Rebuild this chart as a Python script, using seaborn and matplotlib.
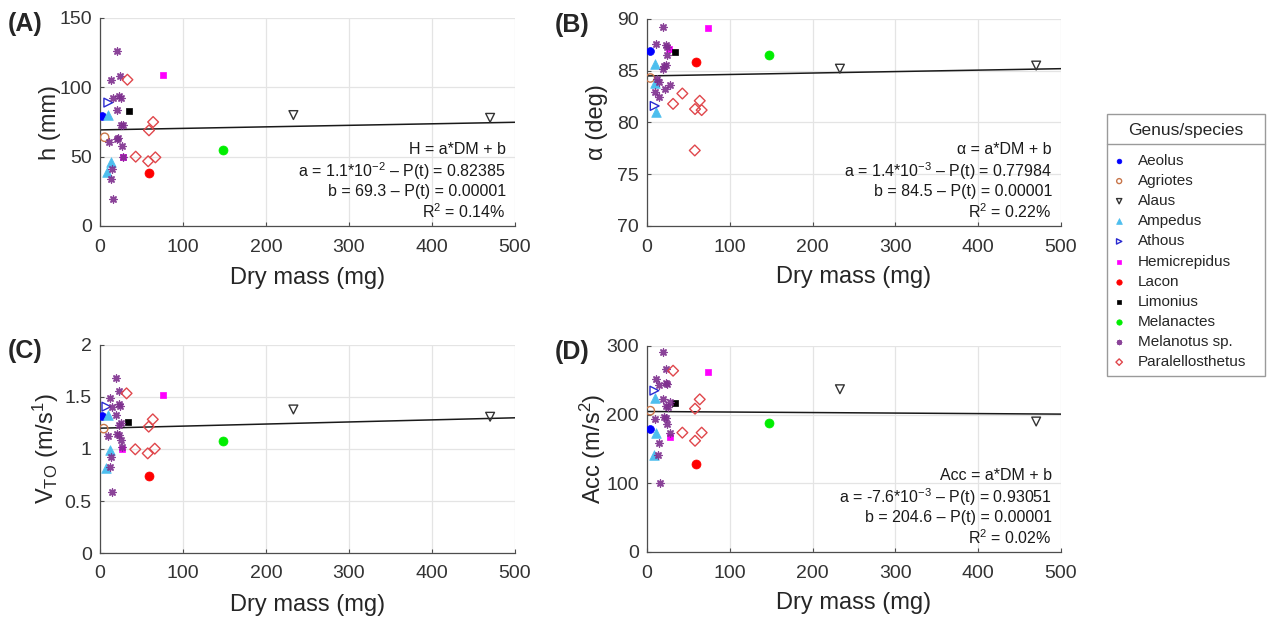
import numpy as np
import pandas as pd
import matplotlib
matplotlib.use("Agg")
import matplotlib.pyplot as plt
from matplotlib.patches import Rectangle
from matplotlib.lines import Line2D
import seaborn as sns

# ==============================================================================
# DATA
# ==============================================================================
species_order = ["Aeolus", "Agriotes", "Alaus", "Ampedus", "Athous", "Hemicrepidus",
                 "Lacon", "Limonius", "Melanactes", "Melanotus sp.", "Paralellosthetus"]

# (A) jump height h (mm) vs dry mass (mg)
panel_a = [
    ("Aeolus", 3, 79.6), ("Agriotes", 5.6, 64),
    ("Alaus", 233, 80), ("Alaus", 470, 78),
    ("Ampedus", 10, 80), ("Ampedus", 13, 46), ("Ampedus", 9, 39),
    ("Athous", 10, 89),
    ("Hemicrepidus", 76, 108.6), ("Hemicrepidus", 28, 49.5),
    ("Lacon", 59, 38), ("Limonius", 34.5, 83), ("Melanactes", 148, 55),
    ("Melanotus sp.", 20, 126), ("Melanotus sp.", 13, 105), ("Melanotus sp.", 24, 108),
    ("Melanotus sp.", 16, 92), ("Melanotus sp.", 23, 94), ("Melanotus sp.", 25, 92),
    ("Melanotus sp.", 20, 84), ("Melanotus sp.", 25, 73), ("Melanotus sp.", 28, 73),
    ("Melanotus sp.", 22, 63.5), ("Melanotus sp.", 10.4, 60.6), ("Melanotus sp.", 26, 57.7),
    ("Melanotus sp.", 14.5, 41), ("Melanotus sp.", 13, 34), ("Melanotus sp.", 16, 19.5),
    ("Melanotus sp.", 21, 63), ("Melanotus sp.", 28, 50),
    ("Paralellosthetus", 33, 105.5), ("Paralellosthetus", 64, 75), ("Paralellosthetus", 59, 69),
    ("Paralellosthetus", 43, 50), ("Paralellosthetus", 66.7, 49.5), ("Paralellosthetus", 58, 46.7),
]

# (B) take-off angle (deg)
panel_b = [
    ("Aeolus", 3.2, 86.9), ("Agriotes", 4, 84.3),
    ("Alaus", 233, 85.2), ("Alaus", 470, 85.5),
    ("Ampedus", 9.7, 85.7), ("Ampedus", 9.3, 83.8), ("Ampedus", 11.3, 81.0),
    ("Athous", 9.3, 81.6),
    ("Hemicrepidus", 73.8, 89.1), ("Hemicrepidus", 26.6, 87.1),
    ("Lacon", 59, 85.8), ("Limonius", 33.9, 86.8), ("Melanactes", 147.6, 86.5),
    ("Melanotus sp.", 19.4, 89.2), ("Melanotus sp.", 11.3, 87.6), ("Melanotus sp.", 22.6, 87.5),
    ("Melanotus sp.", 24, 87.3), ("Melanotus sp.", 24, 86.5), ("Melanotus sp.", 20, 85.5),
    ("Melanotus sp.", 23.4, 85.6), ("Melanotus sp.", 19.4, 85.2), ("Melanotus sp.", 12.5, 84.2),
    ("Melanotus sp.", 14.5, 83.9), ("Melanotus sp.", 27.4, 83.6), ("Melanotus sp.", 21.8, 83.2),
    ("Melanotus sp.", 9.7, 82.9), ("Melanotus sp.", 14.5, 82.5),
    ("Paralellosthetus", 42.7, 82.8), ("Paralellosthetus", 63.7, 82.1), ("Paralellosthetus", 31.5, 81.8),
    ("Paralellosthetus", 58, 81.3), ("Paralellosthetus", 66, 81.2), ("Paralellosthetus", 57.7, 77.3),
]

# (C) take-off velocity (m/s)
panel_c = [
    ("Aeolus", 2, 1.317), ("Agriotes", 4.5, 1.196),
    ("Alaus", 233, 1.38), ("Alaus", 470, 1.31),
    ("Ampedus", 9.7, 1.324), ("Ampedus", 11.7, 0.99), ("Ampedus", 7.7, 0.82),
    ("Athous", 7.7, 1.407),
    ("Hemicrepidus", 75.7, 1.516), ("Hemicrepidus", 27, 1.0),
    ("Lacon", 58.7, 0.744), ("Limonius", 33.6, 1.26), ("Melanactes", 147.8, 1.08),
    ("Melanotus sp.", 19, 1.686), ("Melanotus sp.", 23, 1.558), ("Melanotus sp.", 11.7, 1.487),
    ("Melanotus sp.", 22.3, 1.433), ("Melanotus sp.", 23.9, 1.414), ("Melanotus sp.", 14.2, 1.407),
    ("Melanotus sp.", 19, 1.33), ("Melanotus sp.", 25.5, 1.253), ("Melanotus sp.", 23, 1.23),
    ("Melanotus sp.", 9.3, 1.125), ("Melanotus sp.", 20.6, 1.144), ("Melanotus sp.", 22.3, 1.131),
    ("Melanotus sp.", 24.7, 1.087), ("Melanotus sp.", 27, 1.022), ("Melanotus sp.", 13.4, 0.926),
    ("Melanotus sp.", 11.7, 0.83), ("Melanotus sp.", 15, 0.583),
    ("Paralellosthetus", 32, 1.535), ("Paralellosthetus", 63.6, 1.285), ("Paralellosthetus", 58.7, 1.215),
    ("Paralellosthetus", 42.5, 0.997), ("Paralellosthetus", 66, 1.003), ("Paralellosthetus", 57.5, 0.958),
]

# (D) take-off acceleration (m/s^2)
panel_d = [
    ("Aeolus", 3.2, 178.6), ("Agriotes", 4, 205.8),
    ("Alaus", 233, 237), ("Alaus", 470, 190),
    ("Ampedus", 9.3, 225), ("Ampedus", 11.3, 172.8), ("Ampedus", 8.9, 141),
    ("Athous", 8.9, 235),
    ("Hemicrepidus", 74.2, 262), ("Hemicrepidus", 27.4, 168),
    ("Lacon", 59, 128.6), ("Limonius", 33.9, 217.5), ("Melanactes", 147.6, 187.4),
    ("Melanotus sp.", 19.4, 291), ("Melanotus sp.", 23.4, 267), ("Melanotus sp.", 11.3, 252.4),
    ("Melanotus sp.", 14.5, 243.7), ("Melanotus sp.", 22.6, 245.6), ("Melanotus sp.", 24, 244.7),
    ("Melanotus sp.", 19.4, 223.3), ("Melanotus sp.", 27.4, 219), ("Melanotus sp.", 23.4, 212.6),
    ("Melanotus sp.", 25.8, 211.7), ("Melanotus sp.", 9.7, 194), ("Melanotus sp.", 20.2, 197),
    ("Melanotus sp.", 22.6, 195), ("Melanotus sp.", 24, 186.4), ("Melanotus sp.", 27.4, 173.8),
    ("Melanotus sp.", 14.5, 159.2), ("Melanotus sp.", 12.9, 141.7), ("Melanotus sp.", 16.1, 101),
    ("Paralellosthetus", 31.5, 264), ("Paralellosthetus", 63.7, 222.3), ("Paralellosthetus", 58, 208.7),
    ("Paralellosthetus", 42.7, 173.8), ("Paralellosthetus", 66, 173.8), ("Paralellosthetus", 58, 162),
]

# linear fits: slope mantissa, slope exponent, intercept, P(slope), P(intercept), R2 (%)
fit_a = (1.1, -2, 69.3, 0.82385, 0.00001, 0.14)
fit_b = (1.4, -3, 84.5, 0.77984, 0.00001, 0.22)
fit_c = (2.0, -4, 1.2, None, None, None)       # no equation printed in panel C
fit_d = (-7.6, -3, 204.6, 0.93051, 0.00001, 0.02)

# ==============================================================================
# STYLE
# ==============================================================================
# kind: "filled", "open" (hollow outline) or "line" (line-art marker)
species_style = {
    "Aeolus":           dict(marker="o", color="#0000ff", kind="filled", s=32),
    "Agriotes":         dict(marker="o", color="#c8764a", kind="open", s=36),
    "Alaus":            dict(marker="v", color="#333333", kind="open", s=40),
    "Ampedus":          dict(marker="^", color="#4dbeee", kind="filled", s=48),
    "Athous":           dict(marker=">", color="#2a2ad0", kind="open", s=40),
    "Hemicrepidus":     dict(marker="s", color="#ff00ff", kind="filled", s=24),
    "Lacon":            dict(marker="o", color="#ff0000", kind="filled", s=42),
    "Limonius":         dict(marker="s", color="#000000", kind="filled", s=22),
    "Melanactes":       dict(marker="o", color="#00ee00", kind="filled", s=42),
    "Melanotus sp.":    dict(marker=(8, 2, 0), color="#7e2f8e", kind="line", s=26),
    "Paralellosthetus": dict(marker="D", color="#e0474c", kind="open", s=30),
}

sns.set_style("white")
plt.rcParams['font.family'] = ['Liberation Sans', 'DejaVu Sans']
plt.rcParams['mathtext.fontset'] = 'custom'
plt.rcParams['mathtext.rm'] = 'Liberation Sans'
plt.rcParams['mathtext.it'] = 'Liberation Sans'
plt.rcParams['mathtext.default'] = 'regular'

W, H = 1267, 623
fig = plt.figure(figsize=(W / 100, H / 100), dpi=100)


def px_axes(l, t, r, b):
    return fig.add_axes([l / W, 1 - b / H, (r - l) / W, (b - t) / H])


panels = [
    (px_axes(100, 18, 515, 226), panel_a, fit_a, (0, 150), [0, 50, 100, 150], "h (mm)", "(A)", "H"),
    (px_axes(647, 19, 1061, 226), panel_b, fit_b, (70, 90), [70, 75, 80, 85, 90], "α (deg)", "(B)", "α"),
    (px_axes(100, 345, 515, 553), panel_c, fit_c, (0, 2), [0, 0.5, 1, 1.5, 2],
     "V$_{TO}$ (m/s$^{1}$)", "(C)", None),
    (px_axes(647, 346, 1061, 552), panel_d, fit_d, (0, 300), [0, 100, 200, 300], "Acc (m/s$^{2}$)", "(D)", "Acc"),
]

for ax, rows, fit, ylim, yticks, ylabel, letter, eqname in panels:
    df = pd.DataFrame(rows, columns=["species", "dm", "val"])

    # regression line from the printed coefficients
    mant, expo, icpt, p_a, p_b, r2 = fit
    slope = mant * 10.0 ** expo
    xs = np.array([0, 500])
    ax.plot(xs, slope * xs + icpt, color="#1a1a1a", lw=1.1, zorder=1.5)

    for sp in species_order:
        sub = df[df["species"] == sp]
        if sub.empty:
            continue
        st = species_style[sp]
        common = dict(x=sub["dm"].values, y=sub["val"].values, ax=ax, marker=st["marker"],
                      s=st["s"], color=st["color"], label=sp, legend=False, zorder=3)
        if st["kind"] == "filled":
            sns.scatterplot(edgecolor=st["color"], linewidth=0.5, **common)
        elif st["kind"] == "open":
            sns.scatterplot(facecolor="none", edgecolor=st["color"], linewidth=1.0, **common)
        else:
            sns.scatterplot(linewidth=1.0, alpha=0.9, **common)

    ax.set_xlim(0, 500)
    ax.set_ylim(*ylim)
    ax.set_xticks([0, 100, 200, 300, 400, 500])
    ax.set_yticks(yticks)
    ax.set_yticklabels([f"{v:g}" for v in yticks])
    ax.grid(True, color="#e4e4e4", lw=0.9)
    ax.set_axisbelow(True)
    for side in ["top", "right"]:
        ax.spines[side].set_visible(False)
    for side in ["left", "bottom"]:
        ax.spines[side].set_color("#4d4d4d")
        ax.spines[side].set_linewidth(0.9)
    ax.tick_params(direction="in", length=3, width=0.8, color="#4d4d4d",
                   labelsize=14, labelcolor="#333333", pad=6, bottom=True, left=True)
    ax.tick_params(axis="x", pad=9)

    ax.set_xlabel("Dry mass (mg)", fontsize=17)
    ax.xaxis.set_label_coords(0.5, -0.195)
    ax.set_ylabel(ylabel, fontsize=17)
    ax.yaxis.set_label_coords(-0.095, 0.5)

    bbox = ax.get_position()
    fig.text(bbox.x0 - 92 / W, bbox.y1 - 6 / H, letter, fontsize=18, fontweight="bold",
             ha="left", va="center")

    if eqname is not None:
        txt = (f"{eqname} = a*DM + b\n"
               f"a = {mant:g}*10$^{{{expo}}}$ – P(t) = {p_a:.5f}\n"
               f"b = {icpt:g} – P(t) = {p_b:.5f}\n"
               f"R$^{{2}}$ = {r2:.2f}%")
        ax.text(0.978, 0.025, txt, transform=ax.transAxes, ha="right", va="bottom",
                multialignment="right", fontsize=11.5, linespacing=1.2, color="#1a1a1a")

# legend box with a header row
handles, labels = panels[0][0].get_legend_handles_labels()
lx0, ly0, lx1, ly1 = 1107, 114, 1265, 376
fig.patches.append(Rectangle((lx0 / W, 1 - ly1 / H), (lx1 - lx0) / W, (ly1 - ly0) / H,
                             transform=fig.transFigure, fill=False, edgecolor="#9a9a9a", lw=1.0))
fig.lines.append(Line2D([lx0 / W, lx1 / W], [1 - 144 / H, 1 - 144 / H],
                        transform=fig.transFigure, color="#9a9a9a", lw=1.0))
fig.text((lx0 + lx1) / 2 / W, 1 - 130 / H, "Genus/species", fontsize=12.5, ha="center", va="center")
fig.legend(handles, labels, loc="upper left", bbox_to_anchor=(1110 / W, 1 - 154 / H),
           frameon=False, fontsize=11, markerscale=0.6, handlelength=1.2, handletextpad=0.6,
           labelspacing=0.4, borderpad=0, borderaxespad=0)

fig.savefig("out.png", dpi=100)
